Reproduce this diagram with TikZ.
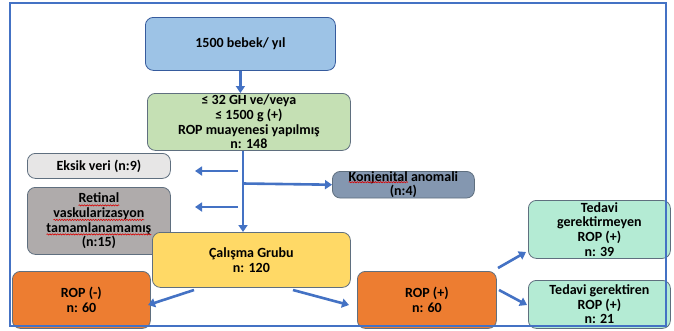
\documentclass[tikz,border=0pt]{standalone}
\usepackage{fontspec}
\setmainfont{Carlito}
\usetikzlibrary{arrows.meta,calc,decorations.pathmorphing}
\definecolor{frameblue}{HTML}{4472C4}
\definecolor{arrblue}{HTML}{4472C4}
\definecolor{bbox}{HTML}{9DC3E6}
\definecolor{gbox}{HTML}{C5E0B4}
\definecolor{lgbox}{HTML}{E7E6E6}
\definecolor{dgbox}{HTML}{AFABAB}
\definecolor{kbox}{HTML}{8497B0}
\definecolor{ybox}{HTML}{FFD966}
\definecolor{obox}{HTML}{ED7D31}
\definecolor{mbox}{HTML}{B4EBD4}
\definecolor{edge}{HTML}{5F6F7F}
\newcommand\boxfont{\fontsize{14}{14.7}\selectfont\bfseries}
\newlength\wret
\newlength\wvas
\newlength\wtam
\newlength\wkon
\newlength\wkonl
\begin{document}
\settowidth\wret{\boxfont Retinal}%
\settowidth\wvas{\boxfont vaskularizasyon}%
\settowidth\wtam{\boxfont tamamlanamamış}%
\settowidth\wkon{\boxfont Konjenital}%
\settowidth\wkonl{\boxfont Konjenital anomali}%
\begin{tikzpicture}[x=1pt,y=-1pt,
  box/.style={draw=edge, line width=0.8pt, rounded corners=8pt, anchor=north west,
    align=center, inner sep=0pt, font=\boxfont},
  arr/.style={draw=arrblue, line width=2.6pt, -{Triangle[length=7pt,width=9pt]}},
  wave/.style={draw=red!85!black, line width=0.6pt, decorate, decoration={snake, amplitude=0.6pt, segment length=2.6pt}}]
\useasboundingbox (0,0) rectangle (674,330);
\fill[white] (0,0) rectangle (674,330);

\node[box, fill=bbox, draw=frameblue!80!black, minimum width=190pt, minimum height=53pt] (start) at (145,17) {1500 bebek/ yıl};
\node[box, fill=gbox, minimum width=203pt, minimum height=57pt] (exam) at (147,93) {≤ 32 GH ve/veya\\ ≤ 1500 g (+)\\ ROP muayenesi yapılmış\\ n: 148};
\node[box, fill=lgbox, minimum width=143pt, minimum height=25pt] (eksik) at (27,153) {Eksik veri (n:9)};
\node[box, fill=dgbox, minimum width=143pt, minimum height=67pt] (ret) at (27,187) {Retinal\\ vaskularizasyon\\ tamamlanamamış\\ (n:15)};
\node[box, fill=kbox, minimum width=142pt, minimum height=25pt] (konj) at (332,171) {Konjenital anomali\\ (n:4)};
\node[box, fill=ybox, minimum width=198pt, minimum height=55pt] (grup) at (152,232) {Çalışma Grubu\\ n: 120};
\node[box, fill=obox, minimum width=138pt, minimum height=57pt] (neg) at (12,271) {ROP (-)\\ n: 60};
\node[box, fill=obox, minimum width=139pt, minimum height=57pt] (pos) at (357,271) {ROP (+)\\ n: 60};
\node[box, fill=mbox, minimum width=142pt, minimum height=58pt] (tg1) at (528,200) {Tedavi\\ gerektirmeyen\\ ROP (+)\\ n: 39};
\node[box, fill=mbox, minimum width=142pt, minimum height=48pt] (tg2) at (528,280) {Tedavi gerektiren\\ ROP (+)\\ n: 21};

% spell-check squiggles
\draw[wave] ($(ret.center)+(-0.5\wret,15.5pt)$) -- +(\wret,0pt);
\draw[wave] ($(ret.center)+(-0.5\wvas,1pt)$) -- +(\wvas,0pt);
\draw[wave] ($(ret.center)+(-0.5\wtam,-13.5pt)$) -- +(\wtam,0pt);
\draw[wave] ($(konj.center)+(-0.5\wkonl,2.5pt)$) -- +(\wkon,0pt);

\coordinate (spine) at (243,0);
\coordinate (br) at (243,183.5);
\draw[arr] (start.south) -- (start.south |- exam.north);
\draw[arr] (exam.south -| spine) -- (grup.north -| spine);
\draw[arr] (br) -- (konj.west);

\coordinate (a1s) at (238,171); \coordinate (a1e) at (195,171);
\coordinate (a2s) at (238,207); \coordinate (a2e) at (195,207);
\draw[arr] (a1s) -- (a1e);
\draw[arr] (a2s) -- (a2e);

\coordinate (d1s) at (194,290); \coordinate (d1e) at (148,305);
\coordinate (d2s) at (293,290); \coordinate (d2e) at (349,305);
\coordinate (d3s) at (499,290); \coordinate (d3e) at (527,305);
\coordinate (d4s) at (498,268); \coordinate (d4e) at (526,252);
\draw[arr] (d1s) -- (d1e);
\draw[arr] (d2s) -- (d2e);
\draw[arr] (d3s) -- (d3e);
\draw[arr] (d4s) -- (d4e);

\draw[frameblue, line width=1.2pt] (10,3) rectangle (666,326);
\end{tikzpicture}
\end{document}
